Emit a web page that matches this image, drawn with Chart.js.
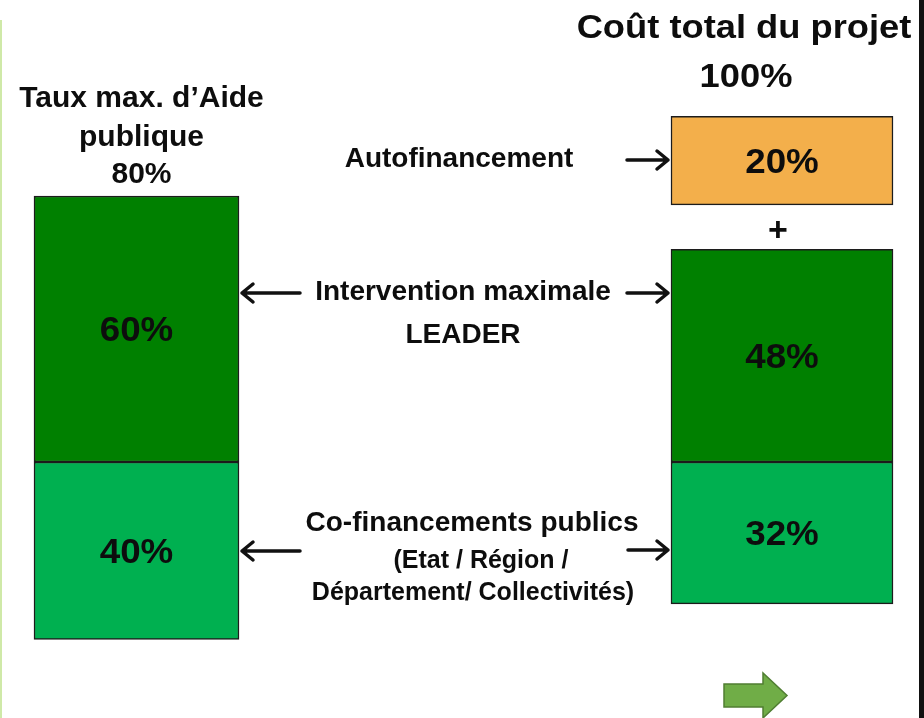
<!DOCTYPE html>
<html>
<head>
<meta charset="utf-8">
<script src="https://cdn.jsdelivr.net/npm/chart.js@4.4.1/dist/chart.umd.min.js"></script>
<style>
  html, body { margin: 0; padding: 0; background: #fff; }
  #wrap { width: 924px; height: 718px; position: relative; }
</style>
</head>
<body>
<div id="wrap"><canvas id="plan-chart"></canvas></div>
<script>
// Data
const columns = ['Taux max. d\u2019Aide publique', 'Co\u00fbt total du projet'];
const columnTotals = [80, 100];    // % of project cost shown above each column
const leaderValues = [60, 48];     // Intervention maximale LEADER
const cofinValues = [40, 32];      // Co-financements publics
const autofinValues = [null, 20];  // Autofinancement

// Layout (not data)
const columnWidths = [205, 222];
const gapAbove = 10; // gap between LEADER block and autofinancement block, in % units
const FONT = '"Liberation Sans", Arial, Helvetica, sans-serif';

const colors = {
  leader: '#008000',
  cofin: '#00B050',
  autofin: '#F3AF4B',
  border: '#1c1c1c',
  text: '#0d0d0d'
};

// Build floating ranges from values
const seriesDefs = [
  { key: 'cofin', label: 'Co-financements publics', range: (i) => [-cofinValues[i], 0] },
  { key: 'leader', label: 'Intervention maximale LEADER', range: (i) => [0, leaderValues[i]] },
  { key: 'autofin', label: 'Autofinancement', range: (i) => autofinValues[i] == null ? null
      : [leaderValues[i] + gapAbove, leaderValues[i] + gapAbove + autofinValues[i]] }
];

const datasets = [];
seriesDefs.forEach((s) => {
  columns.forEach((c, col) => {
    datasets.push({
      label: s.label,
      series: s.key,
      column: col,
      data: columns.map((_, i) => (i === col ? s.range(i) : null)),
      backgroundColor: colors[s.key],
      borderColor: colors.border,
      borderWidth: 1.5,
      borderSkipped: false,
      barThickness: columnWidths[col],
      clip: false
    });
  });
});

function text(ctx, str, x, y, size, sx) {
  ctx.save();
  ctx.font = 'bold ' + size + 'px ' + FONT;
  ctx.fillStyle = colors.text;
  ctx.textAlign = 'center';
  ctx.textBaseline = 'alphabetic';
  ctx.translate(x, y);
  ctx.scale(sx || 1, 1);
  ctx.fillText(str, 0, 0);
  ctx.restore();
}

function arrow(ctx, x1, y, x2) {
  const dir = x2 > x1 ? 1 : -1;
  ctx.save();
  ctx.strokeStyle = '#111';
  ctx.lineWidth = 3.5;
  ctx.lineCap = 'round';
  ctx.lineJoin = 'round';
  ctx.beginPath();
  ctx.moveTo(x1, y);
  ctx.lineTo(x2, y);
  ctx.moveTo(x2 - dir * 11, y - 9);
  ctx.lineTo(x2, y);
  ctx.lineTo(x2 - dir * 11, y + 9);
  ctx.stroke();
  ctx.restore();
}

function barOf(chart, series, col) {
  const idx = chart.data.datasets.findIndex((d) => d.series === series && d.column === col);
  return chart.getDatasetMeta(idx).data[col];
}

const pagePlugin = {
  id: 'page',
  beforeDraw(chart) {
    const ctx = chart.ctx;
    ctx.save();
    ctx.fillStyle = '#fff';
    ctx.fillRect(0, 0, chart.width, chart.height);
    ctx.fillStyle = '#cfe9a8';
    ctx.fillRect(0, 20, 2, chart.height - 20);
    ctx.fillStyle = '#111';
    ctx.fillRect(919, 0, 5, chart.height);
    ctx.restore();
  },
  afterDatasetsDraw(chart) {
    const ctx = chart.ctx;
    const x = chart.scales.x;

    // values inside the blocks
    chart.data.datasets.forEach((ds, di) => {
      chart.getDatasetMeta(di).data.forEach((el, i) => {
        const r = ds.data[i];
        if (!r) return;
        text(ctx, Math.abs(r[1] - r[0]) + '%', el.x, (el.y + el.base) / 2 + 12, 35, 1.05);
      });
    });

    // column titles
    const lx = x.getPixelForValue(0) + 5;
    text(ctx, 'Taux max. d\u2019Aide', lx, 107, 30);
    text(ctx, 'publique', lx, 146, 30);
    text(ctx, columnTotals[0] + '%', lx, 183, 30);

    const rx = x.getPixelForValue(1) - 38;
    text(ctx, 'Co\u00fbt total du projet', rx, 38, 33, 1.1);
    text(ctx, columnTotals[1] + '%', rx + 2, 87, 33, 1.1);

    // middle labels
    text(ctx, 'Autofinancement', 459, 167, 28);
    text(ctx, 'Intervention maximale', 463, 300, 28);
    text(ctx, 'LEADER', 463, 343, 28);
    text(ctx, 'Co-financements publics', 472, 531, 28);
    text(ctx, '(Etat / R\u00e9gion /', 481, 568, 25);
    text(ctx, 'D\u00e9partement/ Collectivit\u00e9s)', 473, 600, 25);

    // arrows anchored to block edges
    const leftLeader = barOf(chart, 'leader', 0);
    const rightLeader = barOf(chart, 'leader', 1);
    const rightAuto = barOf(chart, 'autofin', 1);
    const leftEdge = leftLeader.x + leftLeader.width / 2 + 3;
    const rightEdge = rightLeader.x - rightLeader.width / 2 - 3;
    arrow(ctx, 627, 160, rightEdge);
    arrow(ctx, 627, 293, rightEdge);
    arrow(ctx, 300, 293, leftEdge);
    arrow(ctx, 300, 551, leftEdge);
    arrow(ctx, 628, 550, rightEdge);

    // plus sign between the right blocks
    text(ctx, '+', rightLeader.x - 4, (rightAuto.base + rightLeader.y) / 2 + 14, 34);

    // green navigation arrow
    ctx.save();
    ctx.fillStyle = '#70AD47';
    ctx.strokeStyle = '#507E32';
    ctx.lineWidth = 1.5;
    ctx.beginPath();
    ctx.moveTo(724, 684);
    ctx.lineTo(763, 684);
    ctx.lineTo(763, 673);
    ctx.lineTo(787, 695.5);
    ctx.lineTo(763, 718);
    ctx.lineTo(763, 707);
    ctx.lineTo(724, 707);
    ctx.closePath();
    ctx.fill();
    ctx.stroke();
    ctx.restore();
  }
};

new Chart(document.getElementById('plan-chart'), {
  type: 'bar',
  data: { labels: columns, datasets: datasets },
  options: {
    responsive: true,
    maintainAspectRatio: false,
    animation: false,
    layout: { padding: { left: 136.5, right: 142, top: 18.7, bottom: 34.3 } },
    scales: {
      x: { type: 'category', offset: false, stacked: true, display: false },
      y: { type: 'linear', stacked: false, min: -50, max: 100, display: false }
    },
    plugins: {
      legend: { display: false },
      tooltip: { enabled: false }
    }
  },
  plugins: [pagePlugin]
});
</script>
</body>
</html>
